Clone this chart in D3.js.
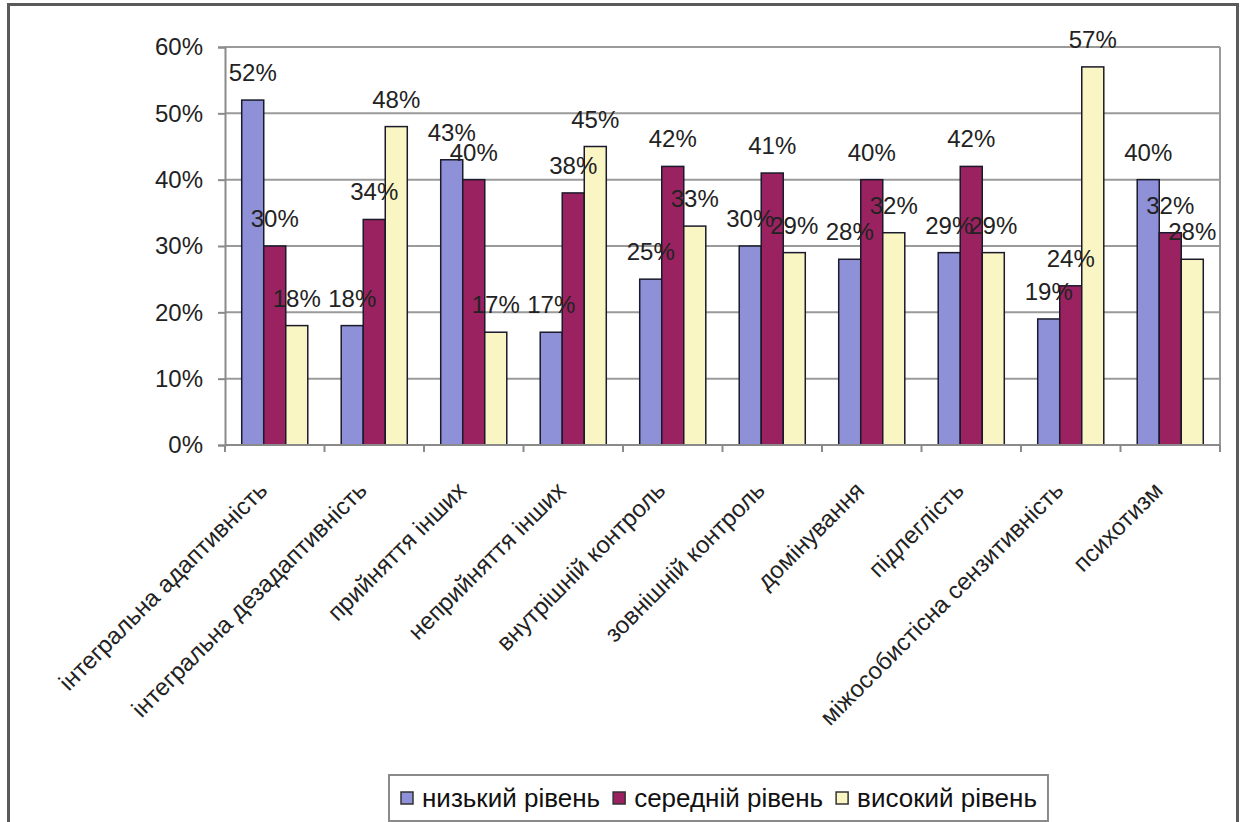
<!DOCTYPE html>
<html>
<head>
<meta charset="utf-8">
<script src="https://cdn.jsdelivr.net/npm/d3@7"></script>
<style>
  html, body { margin: 0; padding: 0; background: #fff; }
  svg { display: block; font-family: "Liberation Sans", Arial, sans-serif; }
</style>
</head>
<body>
<svg id="chart" width="1243" height="822"></svg>
<script>
// Categories (scales of the questionnaire)
const categories = [
  "інтегральна адаптивність",
  "інтегральна дезадаптивність",
  "прийняття інших",
  "неприйняття інших",
  "внутрішній контроль",
  "зовнішній контроль",
  "домінування",
  "підлеглість",
  "міжособистісна сензитивність",
  "психотизм"
];

// Share of respondents per level, %
const lowLevel  = [52, 18, 43, 17, 25, 30, 28, 29, 19, 40];
const midLevel  = [30, 34, 40, 38, 42, 41, 40, 42, 24, 32];
const highLevel = [18, 48, 17, 45, 33, 29, 32, 29, 57, 28];

const seriesNames = ["низький рівень", "середній рівень", "високий рівень"];
const seriesColors = ["#8e90d8", "#9a2261", "#faf6c4"];
const yTicks = [0, 10, 20, 30, 40, 50, 60];

const series = [lowLevel, midLevel, highLevel];

const svg = d3.select("#chart");

// Outer frame
const frame = svg.append("g").attr("stroke", "#5a5a5a").attr("stroke-width", 3).attr("fill", "none");
frame.append("line").attr("x1", 8.5).attr("y1", 4).attr("x2", 8.5).attr("y2", 822);
frame.append("line").attr("x1", 7).attr("y1", 4.5).attr("x2", 1239).attr("y2", 4.5);
frame.append("line").attr("x1", 1237.5).attr("y1", 4).attr("x2", 1237.5).attr("y2", 822);

// Plot area
const plot = { left: 225, right: 1220, top: 47, bottom: 445 };

const x = d3.scaleBand().domain(categories).range([plot.left, plot.right]).padding(0);
const bw = x.bandwidth();
const x1 = d3.scaleBand().domain(d3.range(series.length)).range([bw * 0.168, bw * 0.832]).padding(0);
const y = d3.scaleLinear().domain([0, 60]).range([plot.bottom, plot.top]);

// Gridlines
svg.append("g")
  .selectAll("line")
  .data(yTicks.filter(t => t > 0))
  .join("line")
  .attr("x1", plot.left).attr("x2", plot.right)
  .attr("y1", d => y(d)).attr("y2", d => y(d))
  .attr("stroke", "#9a9a9a").attr("stroke-width", 2);

// Plot area right border
svg.append("line")
  .attr("x1", plot.right).attr("x2", plot.right)
  .attr("y1", plot.top).attr("y2", plot.bottom)
  .attr("stroke", "#9a9a9a").attr("stroke-width", 2);

// Y axis
const yAxis = d3.axisLeft(y)
  .tickValues(yTicks)
  .tickSize(7)
  .tickPadding(15)
  .tickFormat(d => d + "%");
const yG = svg.append("g").attr("transform", `translate(${plot.left},0)`).call(yAxis);
yG.select(".domain").attr("stroke", "#8a8a8a").attr("stroke-width", 2);
yG.selectAll(".tick line").attr("stroke", "#8a8a8a").attr("stroke-width", 2);
yG.selectAll(".tick text")
  .attr("font-size", 24)
  .attr("font-family", "Liberation Sans, Arial, sans-serif")
  .attr("fill", "#222");

// Bars
const groups = svg.append("g")
  .selectAll("g")
  .data(categories)
  .join("g")
  .attr("transform", d => `translate(${x(d)},0)`);

groups.selectAll("rect")
  .data((d, i) => series.map((s, k) => ({ k, v: s[i] })))
  .join("rect")
  .attr("x", d => x1(d.k))
  .attr("width", x1.bandwidth())
  .attr("y", d => y(d.v))
  .attr("height", d => y(0) - y(d.v))
  .attr("fill", d => seriesColors[d.k])
  .attr("stroke", "#1a1a2a")
  .attr("stroke-width", 1.5);

// Value labels
groups.selectAll("text")
  .data((d, i) => series.map((s, k) => ({ k, v: s[i] })))
  .join("text")
  .attr("x", d => x1(d.k) + x1.bandwidth() / 2)
  .attr("y", d => y(d.v) - 19)
  .attr("text-anchor", "middle")
  .attr("font-size", 24)
  .attr("fill", "#222")
  .text(d => d.v + "%");

// X axis
const xAxisLine = svg.append("g");
xAxisLine.append("line")
  .attr("x1", plot.left).attr("x2", plot.right)
  .attr("y1", plot.bottom).attr("y2", plot.bottom)
  .attr("stroke", "#8a8a8a").attr("stroke-width", 2);
xAxisLine.selectAll("line.tick")
  .data(d3.range(categories.length + 1))
  .join("line")
  .attr("class", "tick")
  .attr("x1", i => plot.left + i * bw).attr("x2", i => plot.left + i * bw)
  .attr("y1", plot.bottom).attr("y2", plot.bottom + 7)
  .attr("stroke", "#8a8a8a").attr("stroke-width", 2);

// Rotated category labels
svg.append("g")
  .selectAll("text")
  .data(categories)
  .join("text")
  .attr("transform", d => `translate(${x(d) + bw / 2 - 6},${plot.bottom + 47}) rotate(-45)`)
  .attr("text-anchor", "end")
  .attr("font-size", 24)
  .attr("fill", "#222")
  .text(d => d);

// Legend
const legend = svg.append("g");
const legendBox = legend.append("rect")
  .attr("x", 389).attr("y", 775).attr("height", 46)
  .attr("fill", "#fff").attr("stroke", "#8a8a8a").attr("stroke-width", 2);

let lx = 401;
seriesNames.forEach((name, k) => {
  legend.append("rect")
    .attr("x", lx).attr("y", 792).attr("width", 12).attr("height", 12)
    .attr("fill", seriesColors[k]).attr("stroke", "#333").attr("stroke-width", 1.5);
  const t = legend.append("text")
    .attr("x", lx + 21).attr("y", 807)
    .attr("font-size", 26).attr("fill", "#111")
    .text(name);
  lx += 21 + t.node().getComputedTextLength() + 13;
});
legendBox.attr("width", lx - 389 - 2);
</script>
</body>
</html>
